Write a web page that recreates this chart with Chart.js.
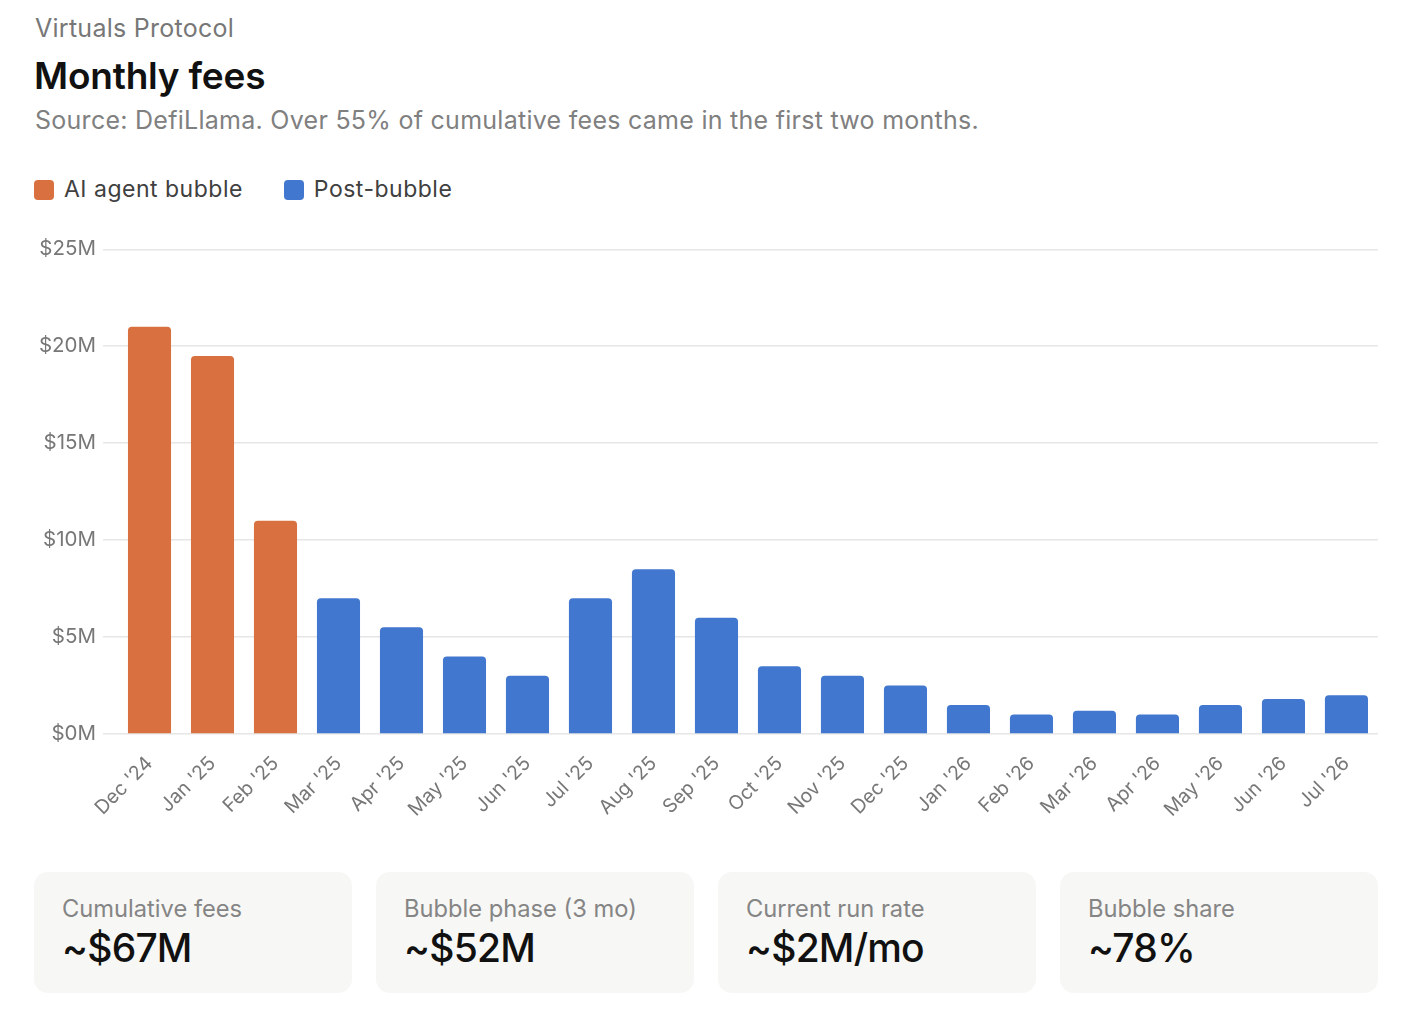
<!DOCTYPE html>
<html>
<head>
<meta charset="utf-8">
<script src="https://cdn.jsdelivr.net/npm/chart.js@4"></script>
<style>
  html, body { margin: 0; padding: 0; background: #fff; }
  body { width: 1404px; height: 1010px; position: relative; overflow: hidden; font-family: Inter, "Noto Sans", sans-serif; }
  .abs { position: absolute; line-height: 1; white-space: nowrap; }
  #kicker { left: 35px; top: 16px; font-size: 25px; letter-spacing: 0.27px; color: #777; }
  #title { left: 34px; top: 57px; font-size: 37px; font-weight: 600; color: #111; letter-spacing: -0.2px; }
  #sub { left: 35px; top: 108px; font-size: 25px; letter-spacing: 0.27px; color: #808080; }
  #legend { left: 34px; top: 178px; display: flex; font-size: 23px; letter-spacing: 0.5px; color: #404040; }
  .li { display: flex; align-items: center; margin-right: 41px; }
  .sw { width: 20px; height: 20px; border-radius: 4px; margin-right: 10px; }
  #chartBox { position: absolute; left: 34px; top: 230px; width: 1347px; height: 620px; }
  .card { position: absolute; top: 872px; width: 318px; height: 121px; background: #f7f7f5; border-radius: 14px; }
  .card .lab { position: absolute; left: 28px; top: 25px; font-size: 23.7px; color: #858585; line-height: 1; white-space: nowrap; }
  .card .val { position: absolute; left: 28px; top: 56px; font-size: 39px; font-weight: 500; color: #111; line-height: 1; white-space: nowrap; letter-spacing: -0.8px; }
</style>
</head>
<body>
<div id="kicker" class="abs">Virtuals Protocol</div>
<div id="title" class="abs">Monthly fees</div>
<div id="sub" class="abs">Source: DefiLlama. Over 55% of cumulative fees came in the first two months.</div>
<div id="legend" class="abs"></div>
<div id="chartBox"><canvas id="c"></canvas></div>
<div id="cards"></div>
<script>
const months = ["Dec '24","Jan '25","Feb '25","Mar '25","Apr '25","May '25","Jun '25","Jul '25","Aug '25","Sep '25","Oct '25","Nov '25","Dec '25","Jan '26","Feb '26","Mar '26","Apr '26","May '26","Jun '26","Jul '26"];
// Monthly fees, $M
const bubbleFees = [21, 19.5, 11, null, null, null, null, null, null, null, null, null, null, null, null, null, null, null, null, null];
const postFees   = [null, null, null, 7, 5.5, 4, 3, 7, 8.5, 6, 3.5, 3, 2.5, 1.5, 1, 1.2, 1, 1.5, 1.8, 2];
const seriesNames = ["AI agent bubble", "Post-bubble"];
const seriesColors = ["#d97040", "#4177ce"];
const yTicks = [0, 5, 10, 15, 20, 25];
const cardLabels = ["Cumulative fees", "Bubble phase (3 mo)", "Current run rate", "Bubble share"];
const cardValues = ["~$67M", "~$52M", "~$2M/mo", "~78%"];

// legend
const lg = document.getElementById('legend');
seriesNames.forEach((n, i) => {
  const d = document.createElement('div'); d.className = 'li';
  d.innerHTML = '<span class="sw" style="background:' + seriesColors[i] + '"></span><span>' + n + '</span>';
  lg.appendChild(d);
});
// cards
const cw = document.getElementById('cards');
cardLabels.forEach((l, i) => {
  const d = document.createElement('div'); d.className = 'card';
  d.style.left = (34 + i * 342) + 'px';
  d.innerHTML = '<div class="lab">' + l + '</div><div class="val">' + cardValues[i] + '</div>';
  cw.appendChild(d);
});

const fam = 'Inter, "Noto Sans", sans-serif';
new Chart(document.getElementById('c'), {
  type: 'bar',
  data: {
    labels: months,
    datasets: [
      { label: seriesNames[0], data: bubbleFees, backgroundColor: seriesColors[0] },
      { label: seriesNames[1], data: postFees, backgroundColor: seriesColors[1] }
    ]
  },
  options: {
    responsive: true,
    maintainAspectRatio: false,
    animation: false,
    devicePixelRatio: 1,
    layout: { padding: { top: 19, right: 0, left: 0, bottom: 0 } },
    datasets: { bar: { categoryPercentage: 0.8, barPercentage: 0.855, borderRadius: 4 } },
    plugins: { legend: { display: false }, tooltip: { enabled: false } },
    scales: {
      x: {
        stacked: true,
        grid: { display: false, drawTicks: false },
        border: { display: false },
        ticks: { color: '#777', font: { family: fam, size: 19.5 }, minRotation: 45, maxRotation: 45, padding: 18, autoSkip: false },
        afterFit: s => { s.height = 116; }
      },
      y: {
        stacked: true,
        min: 0, max: 25,
        afterBuildTicks: s => { s.ticks = yTicks.map(v => ({ value: v })); },
        grid: { color: '#e6e6e6', lineWidth: 1.5, tickLength: 15, drawTicks: true },
        border: { display: false },
        ticks: { color: '#777', font: { family: fam, size: 20.5 }, padding: 7, callback: v => '$' + v + 'M' },
        afterFit: s => { s.width = 84; }
      }
    }
  }
});
</script>
</body>
</html>
